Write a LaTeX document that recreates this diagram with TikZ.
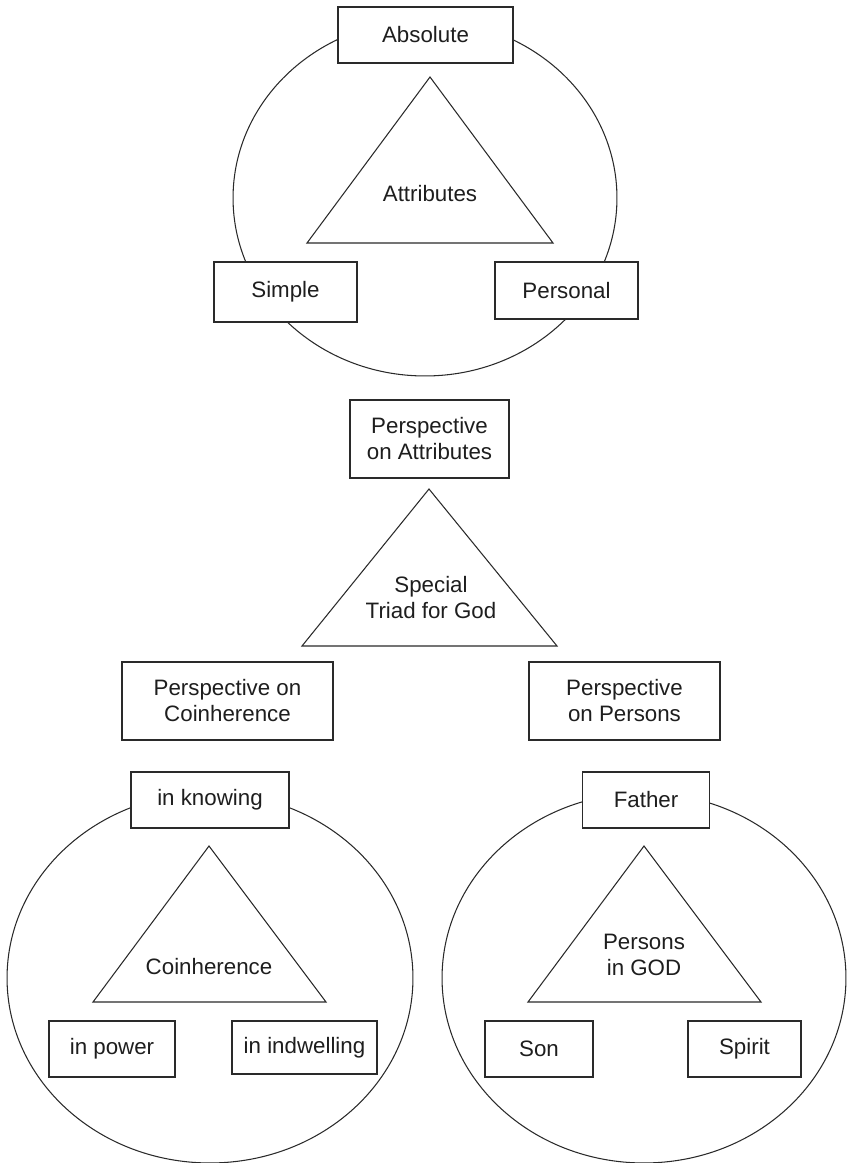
\documentclass[tikz,border=0pt]{standalone}
\usepackage{fontspec}
\setmainfont{Liberation Sans}
\usepackage{tikz}
\usetikzlibrary{positioning}
\usepackage{xcolor}
\definecolor{triadLine}{HTML}{2A2A2A}
\definecolor{triadText}{HTML}{1E1E1E}

\begin{document}
\begin{tikzpicture}[
        x=0.02cm, y=-0.02cm,
        box/.style={
            draw=triadLine,
            line width=0.6pt,
            fill=white,
            minimum height=1.12cm,
            align=center,
            text=triadText,
            font=\fontsize{12.7}{14.8}\selectfont
        },
        tallbox/.style={
            box,
            minimum height=1.56cm
        },
        label/.style={
            align=center,
            text=triadText,
            font=\fontsize{12.7}{14.8}\selectfont
        },
        outline/.style={
            draw=triadLine,
            line width=0.6pt
        }
    ]
    \useasboundingbox (0,0) rectangle (847,1163);

    % ellipses and triangles
    \draw[outline] (425,198) ellipse [x radius=3.84cm, y radius=3.56cm];
    \draw[outline] (210,978) ellipse [x radius=4.06cm, y radius=3.70cm];
    \draw[outline] (644,978) ellipse [x radius=4.04cm, y radius=3.70cm];

    \draw[outline] (430,77) -- (553,243) -- (307,243) -- cycle;
    \draw[outline] (429,489) -- (557,646) -- (302,646) -- cycle;
    \draw[outline] (209,846) -- (326,1002) -- (93,1002) -- cycle;
    \draw[outline] (644,846) -- (761,1002) -- (528,1002) -- cycle;

    % attributes
    \node[label] (attributes) at (430,194) {Attributes};
    \node[box, minimum width=3.5cm] (absolute) at (425.5,35) {Absolute};
    \node[box, minimum width=2.86cm, minimum height=1.2cm] (simple) at (285.5,292) {Simple};
    \node[box, minimum width=2.86cm, minimum height=1.14cm] (personal) at (566.5,290.5) {Personal};

    % special triad
    \node[tallbox, minimum width=3.18cm] (persAttr) at (429.5,439) {Perspective\\on Attributes};
    \node[label] (triad) at (431,598) {Special\\Triad for God};
    \node[tallbox, minimum width=4.22cm] (persCoin) at (227.5,701) {Perspective on\\Coinherence};
    \node[tallbox, minimum width=3.82cm] (persPers) at (624.5,701) {Perspective\\on Persons};

    % coinherence
    \node[label] (coinherence) at (209,967) {Coinherence};
    \node[box, minimum width=3.16cm] (knowing) at (210,800) {in knowing};
    \node[box, minimum width=2.52cm] (power) at (112,1049) {in power};
    \node[box, minimum width=2.9cm, minimum height=1.06cm] (indwelling) at (304.5,1047.5) {in indwelling};

    % persons
    \node[label] (persons) at (644,955) {Persons\\in GOD};
    \node[box, minimum width=2.54cm] (father) at (646,800) {Father};
    \node[box, minimum width=2.16cm] (son) at (539,1049) {Son};
    \node[box, minimum width=2.26cm] (spirit) at (744.5,1049) {Spirit};

\end{tikzpicture}
\end{document}
